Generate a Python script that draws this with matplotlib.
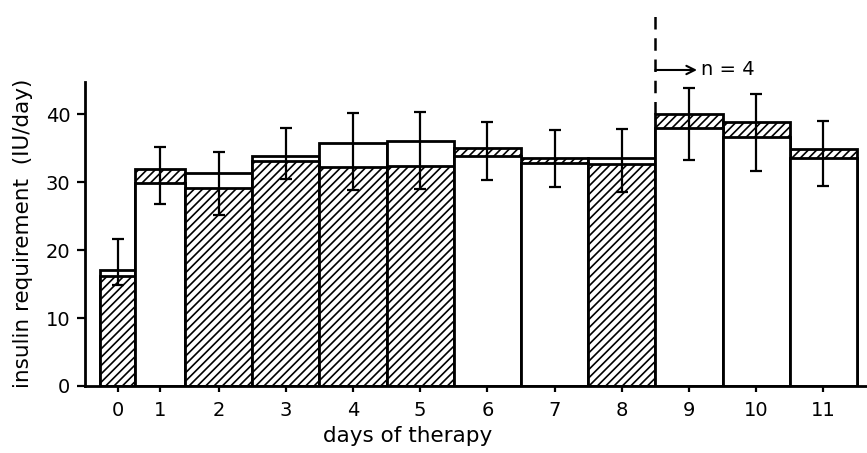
import numpy as np
import matplotlib.pyplot as plt

# insulin requirement per day of therapy (IU/day)
days = ['0', '1', '2', '3', '4', '5', '6', '7', '8', '9', '10', '11']
hatched = [16.2, 31.9, 29.1, 33.1, 32.2, 32.3, 35.0, 33.6, 32.7, 40.0, 38.8, 34.8]
open_ = [17.1, 29.8, 31.4, 33.9, 35.7, 36.1, 33.9, 32.8, 33.5, 37.9, 36.6, 33.5]
err_lo = [14.8, 26.8, 25.1, 30.4, 28.8, 29.0, 30.3, 29.3, 28.5, 33.3, 31.7, 29.4]
err_hi = [21.6, 35.1, 34.5, 38.0, 40.1, 40.3, 38.8, 37.6, 37.8, 43.8, 42.9, 39.0]

# bar edges (first two days are drawn narrower)
edges = np.array([0.24, 0.76] + [k + 0.5 for k in range(1, 12)])
left = edges[:-1]
widths = np.diff(edges)
centers = left + widths / 2

plt.rcParams['font.family'] = 'DejaVu Sans'
plt.rcParams['hatch.linewidth'] = 1.2

fig = plt.figure(figsize=(8.67, 4.53), dpi=100)
ax = fig.add_axes([0.098, 0.148, 0.902, 0.672])

for i in range(len(days)):
    h, o = hatched[i], open_[i]
    # the taller bar sits behind, the shorter one in front
    zh, zo = (1, 2) if h >= o else (2, 1)
    ax.bar(left[i], h, width=widths[i], align='edge', facecolor='white',
           edgecolor='black', hatch='////', linewidth=2, zorder=zh)
    ax.bar(left[i], o, width=widths[i], align='edge', facecolor='white',
           edgecolor='black', linewidth=2, zorder=zo)

lo = np.array(err_lo)
hi = np.array(err_hi)
ax.errorbar(centers, lo, yerr=[np.zeros_like(lo), hi - lo], fmt='none',
            ecolor='black', elinewidth=1.6, capsize=4, capthick=1.6, zorder=3)

ax.set_xlim(0.01, 11.65)
ax.set_ylim(0, 44.8)
ax.set_xticks(centers)
ax.set_xticklabels(days)
ax.set_yticks([0, 10, 20, 30, 40])

for s in ['top', 'right']:
    ax.spines[s].set_visible(False)
for s in ['left', 'bottom']:
    ax.spines[s].set_linewidth(2)

ax.tick_params(axis='both', direction='out', width=1.6, labelsize=14)
ax.tick_params(axis='x', length=4.5, pad=6)
ax.tick_params(axis='y', length=5.5, pad=5)

ax.set_xlabel('days of therapy', fontsize=15.5)
ax.xaxis.set_label_coords(0.412, -0.132)
ax.set_ylabel('insulin requirement  (IU/day)', fontsize=15.5)
ax.yaxis.set_label_coords(-0.066, 0.5)

# start of the n = 4 period
ax.plot([8.5, 8.5], [40, 55], ls=(0, (5, 3.5)), color='black', lw=1.8,
        clip_on=False)
ax.annotate('', xy=(9.12, 46.5), xytext=(8.5, 46.5),
            arrowprops=dict(arrowstyle='->', lw=1.5, color='black',
                            mutation_scale=15, shrinkA=0, shrinkB=0),
            annotation_clip=False)
ax.text(9.18, 46.5, 'n = 4', ha='left', va='center', fontsize=14,
        clip_on=False)

fig.savefig('out.png', dpi=100)
